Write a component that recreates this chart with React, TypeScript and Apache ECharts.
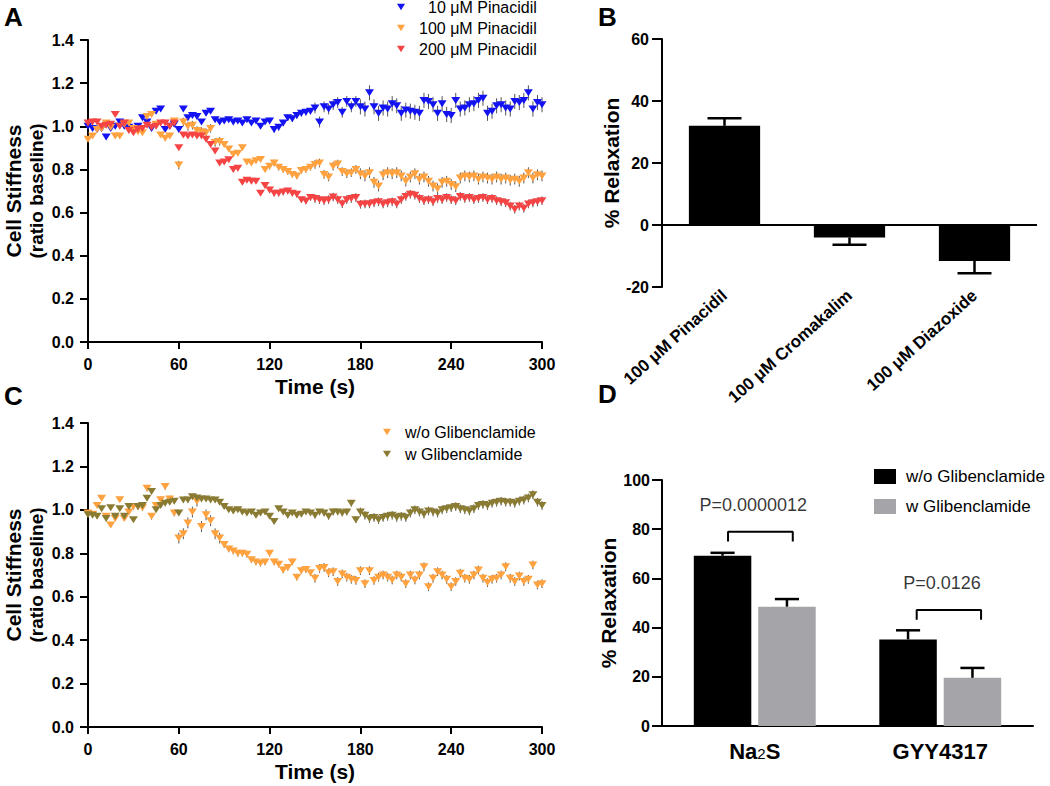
import React, { useEffect, useRef } from 'react';
import * as echarts from 'echarts';

const FONT = "'Liberation Sans', Arial, Helvetica, sans-serif";

// ---------- Panel A / C : time axis (s) ----------
const timeS = [0, 3, 6, 9, 12, 15, 18, 21, 24, 27, 30, 33, 36, 39, 42, 45, 48, 51, 54, 57, 60, 63, 66, 69, 72, 75, 78, 81, 84, 87, 90, 93, 96, 99, 102, 105, 108, 111, 114, 117, 120, 123, 126, 129, 132, 135, 138, 141, 144, 147, 150, 153, 156, 159, 162, 165, 168, 171, 174, 177, 180, 183, 186, 189, 192, 195, 198, 201, 204, 207, 210, 213, 216, 219, 222, 225, 228, 231, 234, 237, 240, 243, 246, 249, 252, 255, 258, 261, 264, 267, 270, 273, 276, 279, 282, 285, 288, 291, 294, 297, 300];

// Panel A: cell stiffness (ratio baseline)
const pin10 = [
  1.00, 0.99, 0.985, 0.99, 0.95, 0.99, 1.00, 1.02, 1.00, 0.995,
  0.99, 1.00, 1.04, 1.02, 0.99, 1.07, 1.08, 0.985, 1.00, 1.01,
  0.985, 1.08, 1.04, 1.05, 1.045, 1.02, 1.06, 1.07, 1.03, 1.02,
  1.025, 1.03, 1.02, 1.025, 1.015, 1.03, 1.015, 1.025, 1.00, 1.02,
  1.025, 0.985, 0.995, 1.015, 1.04, 1.035, 1.05, 1.06, 1.065, 1.07,
  1.085, 1.02, 1.09, 1.08, 1.10, 1.11, 1.065, 1.115, 1.09, 1.115,
  1.09, 1.08, 1.155, 1.09, 1.06, 1.085, 1.08, 1.105, 1.095, 1.06,
  1.075, 1.07, 1.065, 1.06, 1.12, 1.115, 1.10, 1.06, 1.105, 1.055,
  1.05, 1.12, 1.08, 1.085, 1.10, 1.105, 1.12, 1.13, 1.06, 1.07,
  1.095, 1.10, 1.085, 1.08, 1.115, 1.11, 1.12, 1.155, 1.08, 1.11,
  1.10,
];
const pin100 = [
  0.94, 0.955, 0.985, 0.99, 1.015, 0.995, 0.955, 0.955, 1.01, 1.015,
  0.99, 0.975, 0.97, 1.045, 1.055, 1.01, 0.96, 0.945, 0.955, 1.025,
  0.82, 1.02, 1.00, 1.005, 0.98, 0.975, 0.97, 0.99, 0.925, 0.93,
  0.915, 0.895, 0.87, 0.875, 0.90, 0.835, 0.83, 0.84, 0.846, 0.80,
  0.815, 0.83, 0.81, 0.80, 0.79, 0.777, 0.77, 0.795, 0.80, 0.81,
  0.823, 0.83, 0.777, 0.765, 0.815, 0.825, 0.79, 0.78, 0.785, 0.80,
  0.78, 0.77, 0.785, 0.74, 0.723, 0.775, 0.785, 0.78, 0.785, 0.77,
  0.746, 0.765, 0.78, 0.755, 0.765, 0.745, 0.723, 0.71, 0.74, 0.745,
  0.73, 0.72, 0.76, 0.77, 0.765, 0.77, 0.755, 0.765, 0.76, 0.755,
  0.765, 0.755, 0.76, 0.75, 0.755, 0.745, 0.76, 0.785, 0.76, 0.775,
  0.77,
];
const pin200 = [
  1.015, 1.02, 1.02, 1.00, 1.005, 1.01, 1.055, 1.00, 1.015, 0.98,
  0.97, 0.985, 0.99, 1.005, 0.995, 1.00, 1.015, 1.015, 1.00, 1.015,
  0.90, 0.96, 0.955, 0.96, 0.955, 0.955, 0.94, 0.915, 0.885, 0.83,
  0.835, 0.845, 0.80, 0.805, 0.74, 0.75, 0.745, 0.745, 0.69, 0.725,
  0.705, 0.69, 0.69, 0.695, 0.70, 0.69, 0.685, 0.66, 0.654, 0.67,
  0.665, 0.66, 0.655, 0.66, 0.672, 0.66, 0.641, 0.66, 0.665, 0.67,
  0.638, 0.64, 0.64, 0.645, 0.65, 0.64, 0.645, 0.65, 0.64, 0.66,
  0.675, 0.685, 0.68, 0.665, 0.655, 0.66, 0.65, 0.665, 0.66, 0.67,
  0.66, 0.655, 0.675, 0.665, 0.67, 0.66, 0.665, 0.67, 0.66, 0.665,
  0.655, 0.65, 0.645, 0.63, 0.615, 0.63, 0.62, 0.64, 0.645, 0.65,
  0.655,
];
// SEM per 30-s block (0-30, 30-60, ... 270-300)
const semPin10 = [0.01, 0.01, 0.01, 0.01, 0.015, 0.025, 0.035, 0.035, 0.035, 0.035];
const semPin100 = [0.01, 0.01, 0.02, 0.01, 0.015, 0.02, 0.025, 0.025, 0.025, 0.025];
const semPin200 = [0.01, 0.01, 0.01, 0.01, 0.015, 0.02, 0.02, 0.02, 0.02, 0.02];

// Panel C
const glibWo = [
  0.985, 0.98, 1.02, 1.054, 0.97, 0.93, 0.96, 1.046, 0.96, 0.99,
  1.015, 1.015, 1.01, 1.10, 0.97, 1.02, 1.046, 1.108, 1.05, 0.985,
  0.87, 0.89, 0.94, 0.99, 1.04, 0.923, 0.977, 0.95, 0.89, 0.87,
  0.84, 0.82, 0.81, 0.80, 0.80, 0.795, 0.77, 0.76, 0.754, 0.76,
  0.80, 0.76, 0.75, 0.723, 0.735, 0.76, 0.69, 0.72, 0.725, 0.71,
  0.685, 0.73, 0.735, 0.71, 0.715, 0.67, 0.705, 0.69, 0.68, 0.675,
  0.72, 0.66, 0.72, 0.675, 0.69, 0.70, 0.69, 0.677, 0.70, 0.69,
  0.66, 0.70, 0.677, 0.70, 0.738, 0.646, 0.685, 0.715, 0.70, 0.68,
  0.646, 0.67, 0.708, 0.685, 0.68, 0.70, 0.723, 0.685, 0.665, 0.68,
  0.685, 0.70, 0.738, 0.685, 0.67, 0.695, 0.67, 0.68, 0.746, 0.654,
  0.66,
];
const glibW = [
  0.977, 0.975, 0.97, 1.005, 0.96, 1.01, 0.97, 1.005, 0.97, 1.015,
  0.954, 1.015, 1.02, 1.054, 1.085, 1.00, 1.02, 1.03, 1.035, 1.04,
  0.985, 1.045, 1.045, 1.06, 1.055, 1.05, 1.05, 1.045, 1.045, 1.035,
  1.015, 1.00, 0.995, 1.00, 0.99, 0.985, 0.99, 0.975, 0.985, 0.99,
  0.97, 0.946, 1.005, 0.99, 0.975, 0.985, 0.975, 0.98, 0.99, 0.985,
  0.975, 0.99, 0.985, 0.97, 0.99, 0.99, 0.985, 0.99, 1.03, 0.954,
  0.99, 0.975, 0.96, 0.965, 0.955, 0.965, 0.97, 0.975, 0.965, 0.97,
  0.965, 0.985, 1.00, 0.99, 0.98, 0.995, 0.99, 0.985, 1.00, 1.005,
  1.01, 1.015, 1.005, 1.00, 0.995, 1.005, 1.02, 1.025, 1.02, 1.03,
  1.035, 1.04, 1.035, 1.035, 1.03, 1.04, 1.045, 1.055, 1.07, 1.035,
  1.02,
];
const semGlibWo = [0.01, 0.015, 0.025, 0.015, 0.015, 0.02, 0.02, 0.02, 0.02, 0.02];
const semGlibW = [0.01, 0.01, 0.01, 0.01, 0.01, 0.015, 0.02, 0.02, 0.02, 0.02];

// Panel B
const catB = ['100 μM Pinacidil', '100 μM Cromakalim', '100 μM Diazoxide'];
const valB = [32.0, -4.0, -11.6];
const errB = [2.4, 2.4, 4.0];

// Panel D
const catD = ['Na2S', 'GYY4317'];
const valDWo = [69.2, 35.2];
const errDWo = [1.2, 3.7];
const valDW = [48.5, 19.6];
const errDW = [3.1, 4.0];
const bracketNa = [[-0.144, 75], [-0.144, 79], [0.205, 79], [0.205, 75]];
const bracketGyy = [[0.873, 43.2], [0.873, 47.2], [1.22, 47.2], [1.22, 43.2]];
const pLabels = [
  { name: 'P=0.0000012', value: [-0.008, 90] },
  { name: 'P=0.0126', value: [1.009, 58] },
];

// ---------- helpers ----------
const TRI = 'path://M0,0L10,0L5,8Z';
const pairs = (vals: number[]) => timeS.map((t, i) => [t, vals[i]]);
const triples = (vals: number[], sem: number[]) =>
  timeS.map((t, i) => [t, vals[i], sem[Math.min(sem.length - 1, Math.floor(t / 30))]]);

const axisLineBlack = { show: true, onZero: false, lineStyle: { color: '#000', width: 2 } };
const tickOut = (len: number) => ({ show: true, length: len, inside: false, lineStyle: { color: '#000', width: 2 } });
const lblBold = (size: number, extra: any = {}) => ({
  color: '#000', fontWeight: 'bold', fontFamily: FONT, fontSize: size, ...extra,
});

function scatterErr(xi: number, yi: number, data: any[], z = 1) {
  return {
    type: 'custom', xAxisIndex: xi, yAxisIndex: yi, z, silent: true,
    encode: { x: 0, y: 1 },
    data,
    renderItem: (_p: any, api: any) => {
      const t = api.value(0), v = api.value(1), e = api.value(2);
      const a = api.coord([t, v - e]);
      const b = api.coord([t, v + e]);
      return {
        type: 'line',
        shape: { x1: a[0], y1: a[1], x2: b[0], y2: b[1] },
        style: { stroke: '#555', lineWidth: 1 },
      };
    },
  };
}

function scatterSeries(name: string, xi: number, yi: number, vals: number[], color: string) {
  return {
    type: 'scatter', name, xAxisIndex: xi, yAxisIndex: yi, z: 3,
    symbol: TRI, symbolSize: [9, 7],
    itemStyle: { color, opacity: 1 },
    data: pairs(vals),
  };
}

function barErr(xi: number, yi: number, vals: number[], errs: number[], offFrac: number, capFrac: number) {
  return {
    type: 'custom', xAxisIndex: xi, yAxisIndex: yi, z: 4, silent: true,
    encode: { x: 0, y: 1 },
    data: vals.map((v, i) => [i, v, errs[i]]),
    renderItem: (_p: any, api: any) => {
      const i = api.value(0), v = api.value(1), e = api.value(2);
      const dir = v >= 0 ? 1 : -1;
      const base = api.coord([i, v]);
      const tip = api.coord([i, v + dir * e]);
      const band = api.size([1, 0])[0];
      const x = base[0] + offFrac * band;
      const cap = (capFrac * band) / 2;
      const st = { stroke: '#000', lineWidth: 2.5 };
      return {
        type: 'group',
        children: [
          { type: 'line', shape: { x1: x, y1: base[1], x2: x, y2: tip[1] }, style: st },
          { type: 'line', shape: { x1: x - cap, y1: tip[1], x2: x + cap, y2: tip[1] }, style: st },
        ],
      };
    },
  };
}

const stiffYAxis = (gridIndex: number) => ({
  type: 'value', gridIndex, min: 0, max: 1.4, interval: 0.2,
  axisLine: axisLineBlack, axisTick: tickOut(8), splitLine: { show: false },
  axisLabel: lblBold(16, { margin: 14, formatter: (v: number) => v.toFixed(1) }),
  name: '{a|Cell Stiffness}\n{b|(ratio baseline)}',
  nameLocation: 'middle', nameRotate: 90, nameGap: 40,
  nameTextStyle: {
    rich: {
      a: { fontSize: 21, fontWeight: 'bold', fontFamily: FONT, color: '#000', lineHeight: 23 },
      b: { fontSize: 19, fontWeight: 'bold', fontFamily: FONT, color: '#000', lineHeight: 23 },
    },
  },
});

const timeXAxis = (gridIndex: number) => ({
  type: 'value', gridIndex, min: 0, max: 300, interval: 60,
  axisLine: axisLineBlack, axisTick: tickOut(7), splitLine: { show: false },
  axisLabel: lblBold(16, { margin: 14 }),
  name: 'Time (s)', nameLocation: 'middle', nameGap: 34,
  nameTextStyle: lblBold(21),
});

const option: any = {
  animation: false,
  backgroundColor: '#fff',
  textStyle: { fontFamily: FONT },
  grid: [
    { left: 88, top: 40, width: 454, height: 302 },
    { left: 662, top: 39, width: 375, height: 248 },
    { left: 88, top: 423, width: 454, height: 304 },
    { left: 662, top: 480, width: 371, height: 246 },
  ],
  xAxis: [
    timeXAxis(0),
    {
      type: 'category', gridIndex: 1, data: catB,
      axisLine: { show: false, onZero: false }, axisTick: { show: false },
      axisLabel: lblBold(17, { rotate: 42, interval: 0, margin: 6 }),
    },
    timeXAxis(2),
    {
      type: 'category', gridIndex: 3, data: catD,
      axisLine: axisLineBlack, axisTick: { show: false },
      axisLabel: {
        interval: 0, margin: 14,
        formatter: (v: string) => (v === 'Na2S' ? '{b|Na}{s|2}{b|S}' : `{b|${v}}`),
        rich: {
          b: { fontSize: 22, fontWeight: 'bold', fontFamily: FONT, color: '#000' },
          s: { fontSize: 15, fontFamily: FONT, color: '#000', padding: [5, 0, 0, 0] },
        },
      },
    },
    { type: 'value', gridIndex: 3, min: -0.5, max: 1.5, show: false },
  ],
  yAxis: [
    stiffYAxis(0),
    {
      type: 'value', gridIndex: 1, min: -20, max: 60, interval: 20,
      axisLine: axisLineBlack, axisTick: tickOut(10), splitLine: { show: false },
      axisLabel: lblBold(16, { margin: 13 }),
      name: '% Relaxation', nameLocation: 'middle', nameRotate: 90, nameGap: 38,
      nameTextStyle: lblBold(21),
    },
    stiffYAxis(2),
    {
      type: 'value', gridIndex: 3, min: 0, max: 100, interval: 20,
      axisLine: axisLineBlack, axisTick: tickOut(10), splitLine: { show: false },
      axisLabel: lblBold(16, { margin: 12 }),
      name: '% Relaxation', nameLocation: 'middle', nameRotate: 90, nameGap: 38,
      nameTextStyle: lblBold(21),
    },
  ],
  legend: [
    {
      orient: 'vertical', left: 397, top: -1, padding: 0, itemGap: 5,
      itemWidth: 8, itemHeight: 7, selectedMode: false,
      data: [
        { name: '10 μM Pinacidil', icon: TRI },
        { name: '100 μM Pinacidil', icon: TRI },
        { name: '200 μM Pinacidil', icon: TRI },
      ],
      formatter: (n: string) => (n.indexOf('10 ') === 0 ? `{q|${n}}` : `{p|${n}}`),
      textStyle: {
        rich: {
          p: { padding: [0, 0, 0, 9], fontSize: 16, fontFamily: FONT, color: '#000', lineHeight: 17 },
          q: { padding: [0, 0, 0, 18], fontSize: 16, fontFamily: FONT, color: '#000', lineHeight: 17 },
        },
      },
    },
    {
      orient: 'vertical', left: 383, top: 424, padding: 0, itemGap: 6,
      itemWidth: 8, itemHeight: 7, selectedMode: false,
      data: [
        { name: 'w/o Glibenclamide', icon: TRI },
        { name: 'w Glibenclamide', icon: TRI },
      ],
      formatter: (n: string) => `{p|${n}}`,
      textStyle: {
        rich: { p: { padding: [0, 0, 0, 9], fontSize: 16, fontFamily: FONT, color: '#000', lineHeight: 17 } },
      },
    },
    {
      orient: 'vertical', left: 874, top: 468, padding: 0, itemGap: 13,
      itemWidth: 22, itemHeight: 15, selectedMode: false,
      data: [
        { name: 'w/o Glibenclamide ', icon: 'rect' },
        { name: 'w Glibenclamide ', icon: 'rect' },
      ],
      formatter: (n: string) => `{p|${n.trim()}}`,
      textStyle: {
        rich: { p: { padding: [0, 0, 0, 5], fontSize: 17, fontFamily: FONT, color: '#000', lineHeight: 15 } },
      },
    },
  ],
  graphic: [
    { type: 'text', left: 4, top: 4, style: { text: 'A', fontSize: 26, fontWeight: 'bold', fontFamily: FONT, fill: '#000' } },
    { type: 'text', left: 598, top: 4, style: { text: 'B', fontSize: 26, fontWeight: 'bold', fontFamily: FONT, fill: '#000' } },
    { type: 'text', left: 4, top: 383, style: { text: 'C', fontSize: 26, fontWeight: 'bold', fontFamily: FONT, fill: '#000' } },
    { type: 'text', left: 598, top: 381, style: { text: 'D', fontSize: 26, fontWeight: 'bold', fontFamily: FONT, fill: '#000' } },
  ],
  series: [
    // Panel A
    scatterErr(0, 0, triples(pin10, semPin10)),
    scatterErr(0, 0, triples(pin100, semPin100)),
    scatterErr(0, 0, triples(pin200, semPin200)),
    scatterSeries('10 μM Pinacidil', 0, 0, pin10, '#1212F2'),
    scatterSeries('100 μM Pinacidil', 0, 0, pin100, '#FFA23F'),
    scatterSeries('200 μM Pinacidil', 0, 0, pin200, '#F54444'),
    // Panel B
    {
      type: 'bar', name: 'Relaxation B', xAxisIndex: 1, yAxisIndex: 1, data: valB,
      barWidth: '57%', itemStyle: { color: '#000' }, z: 2,
      markLine: {
        silent: true, symbol: ['none', 'none'], label: { show: false },
        lineStyle: { color: '#000', width: 2, type: 'solid' },
        data: [{ yAxis: 0 }],
      },
    },
    barErr(1, 1, valB, errB, 0, 0.272),
    // Panel C
    scatterErr(2, 2, triples(glibWo, semGlibWo)),
    scatterErr(2, 2, triples(glibW, semGlibW)),
    scatterSeries('w/o Glibenclamide', 2, 2, glibWo, '#FFA23F'),
    scatterSeries('w Glibenclamide', 2, 2, glibW, '#8A7B33'),
    // Panel D
    {
      type: 'bar', name: 'w/o Glibenclamide ', xAxisIndex: 3, yAxisIndex: 3, data: valDWo,
      barWidth: '31%', barGap: '12%', itemStyle: { color: '#000' }, z: 2,
    },
    {
      type: 'bar', name: 'w Glibenclamide ', xAxisIndex: 3, yAxisIndex: 3, data: valDW,
      barWidth: '31%', barGap: '12%', itemStyle: { color: '#A5A5A9' }, z: 2,
    },
    barErr(3, 3, valDWo, errDWo, -0.1736, 0.13),
    barErr(3, 3, valDW, errDW, 0.1736, 0.13),
    {
      type: 'line', xAxisIndex: 4, yAxisIndex: 3, data: bracketNa, symbol: 'none', silent: true,
      lineStyle: { color: '#000', width: 2 }, z: 5,
    },
    {
      type: 'line', xAxisIndex: 4, yAxisIndex: 3, data: bracketGyy, symbol: 'none', silent: true,
      lineStyle: { color: '#000', width: 2 }, z: 5,
    },
    {
      type: 'scatter', xAxisIndex: 4, yAxisIndex: 3, data: pLabels, symbolSize: 1, silent: true,
      itemStyle: { color: 'rgba(0,0,0,0)' },
      label: { show: true, position: 'inside', formatter: '{b}', fontSize: 18, fontFamily: FONT, color: '#000' },
    },
  ],
};

export default function App() {
  const ref = useRef<HTMLDivElement>(null);
  useEffect(() => {
    const chart = echarts.init(ref.current!, null, { renderer: 'svg' });
    chart.setOption(option);
    return () => chart.dispose();
  }, []);
  return (
    <div
      ref={ref}
      style={{ position: 'absolute', left: 0, top: 0, width: 1050, height: 786, background: '#fff' }}
    />
  );
}
